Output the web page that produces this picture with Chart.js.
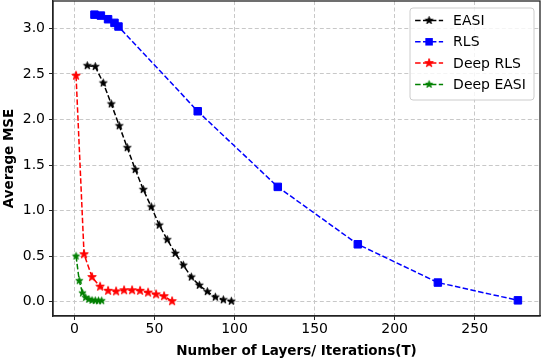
<!DOCTYPE html>
<html>
<head>
<meta charset="utf-8">
<script src="https://cdn.jsdelivr.net/npm/chart.js@4.4.1/dist/chart.umd.min.js"></script>
<style>
  html, body { margin: 0; padding: 0; background: #fff; }
  #wrap { width: 542px; height: 362px; }
</style>
</head>
<body>
<div id="wrap"><canvas id="myChart" width="542" height="362"></canvas></div>
<script>
// valori
const easiX = [8, 13, 18, 23, 28, 33, 38, 43, 48, 53, 58, 63, 68, 73, 78, 83, 88, 93, 98];
const easiY = [2.59, 2.58, 2.40, 2.17, 1.93, 1.69, 1.45, 1.23, 1.04, 0.84, 0.68, 0.53, 0.40, 0.27, 0.18, 0.11, 0.05, 0.02, 0.005];
const rlsX = [12.5, 16.5, 21, 25, 27.5, 77, 127, 177, 227, 277];
const rlsY = [3.15, 3.14, 3.10, 3.06, 3.02, 2.09, 1.26, 0.63, 0.21, 0.015];
const deepRlsX = [1, 6, 11, 16, 21, 26, 31, 36, 41, 46, 51, 56, 61];
const deepRlsY = [2.48, 0.52, 0.27, 0.165, 0.12, 0.113, 0.125, 0.125, 0.12, 0.10, 0.08, 0.06, 0.005];
const deepEasiX = [1, 3, 5, 7, 9, 11, 13, 15, 17];
const deepEasiY = [0.50, 0.23, 0.095, 0.045, 0.025, 0.015, 0.012, 0.01, 0.01];

const seriesNames = ['EASI', 'RLS', 'Deep RLS', 'Deep EASI'];
const xTicks = [0, 50, 100, 150, 200, 250];
const xTickLabels = ['0', '50', '100', '150', '200', '250'];
const yTicks = [0, 0.5, 1, 1.5, 2, 2.5, 3];
const yTickLabels = ['0.0', '0.5', '1.0', '1.5', '2.0', '2.5', '3.0'];

const FONT = "'DejaVu Sans', sans-serif";

// stella piena a 5 punte (come il marker '*' di matplotlib)
function makeStar(color, R) {
    const size = Math.ceil(2 * R + 3);
    const c = document.createElement('canvas');
    c.width = size; c.height = size;
    const g = c.getContext('2d');
    const cx = size / 2, cy = size / 2, r = R * 0.382;
    g.beginPath();
    for (let k = 0; k < 10; k++) {
        const ang = -Math.PI / 2 + k * Math.PI / 5;
        const rad = k % 2 === 0 ? R : r;
        const px = cx + rad * Math.cos(ang), py = cy + rad * Math.sin(ang);
        if (k === 0) g.moveTo(px, py); else g.lineTo(px, py);
    }
    g.closePath();
    g.fillStyle = color; g.strokeStyle = color; g.lineWidth = 1;
    g.fill(); g.stroke();
    return c;
}

function pts(xs, ys) {
    return xs.map((x, i) => ({x: x, y: ys[i]}));
}

const dash = [5.5, 2.4];

const datasets = [
    {label: seriesNames[0], data: pts(easiX, easiY), borderColor: '#000000', backgroundColor: '#000000',
     pointStyle: makeStar('#000000', 4), order: 4},
    {label: seriesNames[1], data: pts(rlsX, rlsY), borderColor: '#0000ff', backgroundColor: '#0000ff',
     pointStyle: 'rect', pointRadius: 5.3, order: 3},
    {label: seriesNames[2], data: pts(deepRlsX, deepRlsY), borderColor: '#ff0000', backgroundColor: '#ff0000',
     pointStyle: makeStar('#ff0000', 4.5), order: 2},
    {label: seriesNames[3], data: pts(deepEasiX, deepEasiY), borderColor: '#008000', backgroundColor: '#008000',
     pointStyle: makeStar('#008000', 3.8), order: 1}
];
datasets.forEach(d => {
    d.borderWidth = 1.5;
    d.borderDash = dash;
    d.fill = false;
    d.tension = 0;
    if (d.pointRadius === undefined) d.pointRadius = 4;
    d.pointBorderWidth = 1;
});

// cornice completa + legenda dentro il grafico
const frameAndLegend = {
    id: 'frameAndLegend',
    afterDraw(chart) {
        const ctx = chart.ctx;
        const a = chart.chartArea;
        ctx.save();
        ctx.strokeStyle = '#222';
        ctx.lineWidth = 1.3;
        ctx.strokeRect(a.left, a.top, a.right - a.left, a.bottom - a.top);

        const w = 124, h = 92;
        const lx = a.right - 6.5 - w, ly = a.top + 6.5;
        ctx.beginPath();
        ctx.roundRect(lx + 0.5, ly + 0.5, w, h, 3);
        ctx.fillStyle = 'rgba(255,255,255,0.8)';
        ctx.fill();
        ctx.strokeStyle = '#cccccc';
        ctx.lineWidth = 1;
        ctx.stroke();

        chart.data.datasets.forEach((ds, i) => {
            const y = ly + 13 + i * 21.3;
            const x0 = lx + 5.6, x1 = x0 + 28, xm = (x0 + x1) / 2;
            ctx.save();
            ctx.strokeStyle = ds.borderColor;
            ctx.lineWidth = ds.borderWidth;
            ctx.setLineDash(ds.borderDash);
            ctx.beginPath();
            ctx.moveTo(x0, y); ctx.lineTo(x1, y);
            ctx.stroke();
            ctx.restore();
            if (ds.pointStyle === 'rect') {
                const s = ds.pointRadius * Math.SQRT1_2;
                ctx.fillStyle = ds.backgroundColor;
                ctx.fillRect(xm - s, y - s, 2 * s, 2 * s);
            } else {
                const img = ds.pointStyle;
                ctx.drawImage(img, xm - img.width / 2, y - img.height / 2);
            }
            ctx.fillStyle = '#000';
            ctx.font = '14px ' + FONT;
            ctx.textBaseline = 'middle';
            ctx.textAlign = 'left';
            ctx.fillText(ds.label, x1 + 10, y + 1);
        });
        ctx.restore();
    }
};

const ctx = document.getElementById('myChart').getContext('2d');
const chart = new Chart(ctx, {
    type: 'line',
    data: {datasets: datasets},
    options: {
        responsive: false,
        animation: false,
        layout: {padding: {top: 1, right: 2, left: 0, bottom: 0}, autoPadding: false},
        plugins: {
            legend: {display: false},
            tooltip: {enabled: false}
        },
        scales: {
            x: {
                type: 'linear',
                min: -13.4,
                max: 290.8,
                afterBuildTicks: axis => { axis.ticks = xTicks.map(v => ({value: v})); },
                afterFit: axis => { axis.height = 46; axis.paddingLeft = 0; axis.paddingRight = 0; },
                ticks: {
                    callback: (v, i) => xTickLabels[i],
                    color: '#000',
                    font: {family: FONT, size: 14},
                    padding: 1,
                    maxRotation: 0
                },
                grid: {color: '#c8c8c8', lineWidth: 1, tickColor: '#222', tickLength: 4, tickWidth: 1},
                border: {color: '#222', width: 1.3, dash: [4, 2.5]},
                title: {
                    display: true,
                    text: 'Number of Layers/ Iterations(T)',
                    color: '#000',
                    font: {family: FONT, size: 13.5, weight: 'bold'},
                    padding: {top: 0, bottom: 2}
                }
            },
            y: {
                type: 'linear',
                min: -0.157,
                max: 3.30,
                afterBuildTicks: axis => { axis.ticks = yTicks.map(v => ({value: v})); },
                afterFit: axis => { axis.width = 53; axis.paddingTop = 0; axis.paddingBottom = 0; },
                ticks: {
                    callback: (v, i) => yTickLabels[i],
                    color: '#000',
                    font: {family: FONT, size: 14},
                    padding: 4
                },
                grid: {color: '#c8c8c8', lineWidth: 1, tickColor: '#222', tickLength: 4, tickWidth: 1},
                border: {color: '#222', width: 1.3, dash: [4, 2.5]},
                title: {
                    display: true,
                    text: 'Average MSE',
                    color: '#000',
                    font: {family: FONT, size: 13.5, weight: 'bold'},
                    padding: {top: 1, bottom: 0}
                }
            }
        }
    },
    plugins: [frameAndLegend]
});
</script>
</body>
</html>
